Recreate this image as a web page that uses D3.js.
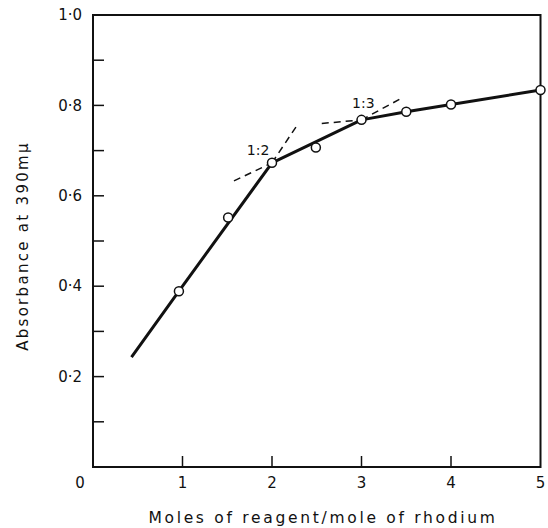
<!DOCTYPE html>
<html>
<head>
<meta charset="utf-8">
<script src="https://cdn.jsdelivr.net/npm/d3@7"></script>
<style>
  body { margin: 0; background: #fff; }
  text { font-family: "DejaVu Sans", "Liberation Sans", sans-serif; fill: #111; }
</style>
</head>
<body>
<script>
// readings taken off the original figure
const moles = [0.96, 1.51, 2.0, 2.49, 3.0, 3.5, 4.0, 5.0];
const absorbance = [0.389, 0.552, 0.673, 0.707, 0.768, 0.786, 0.802, 0.834];

// the drawn curve (starts below the first point, skips the 2.5 point)
const curveX = [0.43, 0.96, 2.0, 3.0, 3.5, 4.0, 5.0];
const curveY = [0.243, 0.389, 0.673, 0.768, 0.786, 0.802, 0.834];

// dashed extrapolations at the breaks
const tangents = [
  [[2.0, 0.673], [2.294, 0.760]],
  [[1.575, 0.633], [2.0, 0.673]],
  [[2.556, 0.760], [3.0, 0.768]],
  [[3.0, 0.768], [3.449, 0.816]]
];
const ratioLabels = ["1:2", "1:3"];
const ratioLabelX = [1.845, 3.02];
const ratioLabelY = [0.701, 0.805];

const xTicks = [0, 1, 2, 3, 4, 5];
const yMajor = [0.2, 0.4, 0.6, 0.8, 1.0];
const yMajorLabels = ["0·2", "0·4", "0·6", "0·8", "1·0"];
const yMinor = [0.1, 0.3, 0.5, 0.7, 0.9];

const xTitle = "Moles of reagent/mole of rhodium";
const yTitle = "Absorbance at 390m\u03bc";

const width = 548, height = 528;
const svg = d3.select("body").append("svg")
  .attr("width", width).attr("height", height);

const x = d3.scaleLinear().domain([0, 5]).range([93, 540.5]);
const y = d3.scaleLinear().domain([0, 1]).range([467, 15]);

// frame
svg.append("rect")
  .attr("x", x(0)).attr("y", y(1))
  .attr("width", x(5) - x(0)).attr("height", y(0) - y(1))
  .attr("fill", "none").attr("stroke", "#111").attr("stroke-width", 2);

// y ticks (inward)
svg.append("g").selectAll("line")
  .data(yMajor.concat(yMinor).filter(d => d < 1))
  .enter().append("line")
  .attr("x1", x(0)).attr("x2", x(0) + 11)
  .attr("y1", d => y(d)).attr("y2", d => y(d))
  .attr("stroke", "#111").attr("stroke-width", 1.5);

svg.append("g").selectAll("text")
  .data(yMajor)
  .enter().append("text")
  .attr("x", x(0) - 11)
  .attr("y", d => y(d))
  .attr("dy", "0.35em")
  .attr("text-anchor", "end")
  .attr("font-size", 15)
  .text((d, i) => yMajorLabels[i]);

// x ticks (inward)
svg.append("g").selectAll("line")
  .data(xTicks.filter(d => d > 0 && d < 5))
  .enter().append("line")
  .attr("x1", d => x(d)).attr("x2", d => x(d))
  .attr("y1", y(0)).attr("y2", y(0) - 11)
  .attr("stroke", "#111").attr("stroke-width", 1.5);

svg.append("g").selectAll("text")
  .data(xTicks)
  .enter().append("text")
  .attr("x", d => d === 0 ? x(d) - 13 : x(d))
  .attr("y", y(0) + 16)
  .attr("dy", "0.35em")
  .attr("text-anchor", "middle")
  .attr("font-size", 15)
  .text(d => d);

// axis titles
svg.append("text")
  .attr("x", 323).attr("y", 523)
  .attr("text-anchor", "middle")
  .attr("font-size", 15.5)
  .attr("letter-spacing", 2.7)
  .text(xTitle);

svg.append("text")
  .attr("transform", "translate(28,246) rotate(-90)")
  .attr("text-anchor", "middle")
  .attr("font-size", 15)
  .attr("letter-spacing", 2.3)
  .text(yTitle);

// dashed tangents
const line = d3.line().x(d => x(d[0])).y(d => y(d[1]));
svg.append("g").selectAll("path")
  .data(tangents)
  .enter().append("path")
  .attr("d", line)
  .attr("fill", "none")
  .attr("stroke", "#111").attr("stroke-width", 1.5)
  .attr("stroke-dasharray", "7,5");

// main curve
svg.append("path")
  .datum(curveX.map((d, i) => [d, curveY[i]]))
  .attr("d", line)
  .attr("fill", "none")
  .attr("stroke", "#111").attr("stroke-width", 3)
  .attr("stroke-linejoin", "round");

// points
svg.append("g").selectAll("circle")
  .data(moles.map((d, i) => [d, absorbance[i]]))
  .enter().append("circle")
  .attr("cx", d => x(d[0])).attr("cy", d => y(d[1]))
  .attr("r", 4.5)
  .attr("fill", "#fff").attr("stroke", "#111").attr("stroke-width", 1.5);

// ratio labels
svg.append("g").selectAll("text")
  .data(ratioLabels)
  .enter().append("text")
  .attr("x", (d, i) => x(ratioLabelX[i]))
  .attr("y", (d, i) => y(ratioLabelY[i]))
  .attr("dy", "0.35em")
  .attr("text-anchor", "middle")
  .attr("font-size", 14)
  .text(d => d);
</script>
</body>
</html>
